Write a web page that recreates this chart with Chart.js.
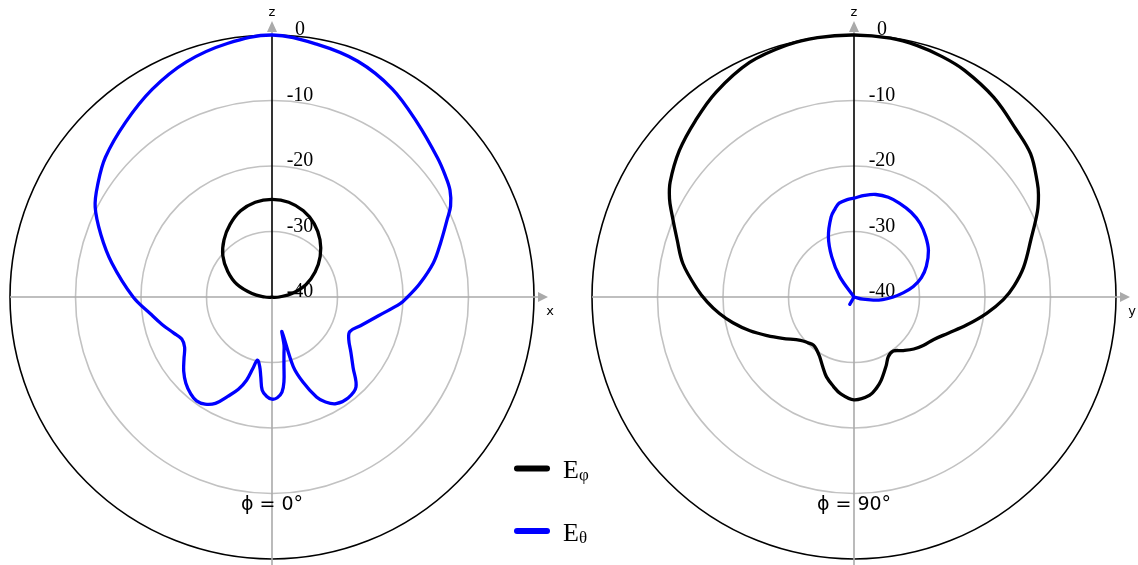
<!DOCTYPE html>
<html>
<head>
<meta charset="utf-8">
<script src="https://cdn.jsdelivr.net/npm/chart.js@4.4.1/dist/chart.umd.min.js"></script>
<style>
  html, body { margin: 0; padding: 0; background: #ffffff; }
  #wrap { position: relative; width: 1138px; height: 565px; overflow: hidden; background: #ffffff; }
  #wrap canvas { position: absolute; left: 0; top: 0; }
</style>
</head>
<body>
<div id="wrap">
  <canvas id="cutXZ" width="1138" height="565"></canvas>
  <canvas id="cutYZ" width="1138" height="565"></canvas>
</div>
<script>
// Normalised far-field pattern cuts, level in dB against polar angle θ (degrees, measured from +z).
const dbMin = -40;
const dbMax = 0;
const dbStep = 10;

// Angular grid: one category per degree, 0 at +z, running clockwise
const polarAngles = Array.from({ length: 360 }, (_, i) => i);

const seriesNames = ['Eφ', 'Eθ'];
const seriesColors = ['#000000', '#0000ff'];

// φ = 0° cut (x–z plane)
const xzPhiAngles = [0, 10, 20, 30, 40, 50, 60, 70, 80, 90, 100, 120, 180, 240, 260, 270, 280, 290, 300, 310, 320, 330, 340, 350];
const xzPhiDb     = [-25.1, -25.3, -26.0, -27.1, -28.6, -30.4, -32.4, -34.5, -36.9, -38.9, -39.7, -40, -40, -40, -39.7, -38.9, -36.9, -34.3, -32.2, -30.2, -28.6, -27.2, -26.0, -25.3];

const xzThetaAngles = [0, 10, 20, 30, 40, 50, 55, 59, 63, 66, 72, 78, 85, 90, 93, 100, 108, 114, 119, 125, 131, 137, 143, 149, 153, 156, 160, 163, 164, 166, 168, 170, 172, 174, 177, 180, 183, 186, 188, 190, 193, 195, 197, 200, 204, 208, 212, 216, 220, 225, 230, 235, 240, 245, 250, 256, 262, 270, 282, 290, 297, 303, 310, 320, 330, 340, 350];
const xzThetaDb     = [0, -0.8, -1.7, -3.3, -5.4, -7.0, -7.7, -8.3, -9.4, -10.7, -12.9, -14.8, -17.4, -19.3, -20.4, -23.5, -25.8, -27.0, -26.6, -25.3, -23.6, -21.2, -20.7, -21.0, -22.0, -23.3, -26.2, -28.9, -34.5, -32.4, -31.2, -29.5, -26.9, -25.4, -24.6, -24.4, -24.8, -25.7, -27.7, -29.2, -30.1, -28.7, -26.7, -25.0, -23.4, -21.6, -20.7, -20.4, -20.7, -21.4, -22.4, -23.6, -24.6, -24.8, -24.0, -22.7, -21.3, -18.8, -15.0, -12.2, -9.7, -8.3, -6.8, -5.2, -3.4, -1.8, -0.7];

// φ = 90° cut (y–z plane)
const yzPhiAngles = [0, 8, 14, 20, 26, 35, 44, 51, 58, 61, 65, 72, 80, 86, 91, 97, 104, 111, 118, 125, 131, 138, 144, 150, 155, 162, 166, 171, 180, 188, 193, 199, 204, 210, 215, 220, 225, 231, 240, 246, 252, 258, 263, 268, 273, 281, 288, 295, 298, 302, 310, 318, 326, 336, 345, 352];
const yzPhiDb     = [0, -0.1, -0.4, -0.9, -1.5, -2.8, -4.4, -5.3, -7.0, -7.8, -9.1, -11.6, -13.7, -15.5, -17.2, -19.6, -22.3, -24.6, -26.2, -27.1, -27.9, -29.0, -29.8, -29.5, -28.4, -26.6, -25.7, -24.8, -24.3, -25.1, -26.0, -27.1, -28.3, -29.5, -30.1, -30.4, -30.1, -29.5, -27.4, -25.5, -23.3, -21.1, -19.3, -17.6, -16.0, -13.4, -11.6, -9.25, -8.1, -6.9, -5.2, -3.8, -2.3, -0.8, -0.2, 0];

const yzThetaAngles = [0, 6, 12, 19, 26, 34, 42, 50, 58, 67, 74, 80, 85, 90, 95, 99, 104, 110, 180, 210, 240, 322, 325, 331, 337, 344, 348, 351, 356];
const yzThetaDb     = [-24.9, -24.4, -24.0, -23.9, -24.1, -24.4, -24.9, -25.7, -26.6, -28.0, -29.3, -30.8, -32.4, -34.0, -35.6, -37.0, -38.6, -40, -40, -38.7, -40, -40, -36.2, -33.0, -30.0, -27.3, -26.2, -25.5, -25.1];

// Spread sparse readings onto the per-degree category grid (gaps are spanned by the line)
function onAngleGrid(angles, values) {
  const out = polarAngles.map(() => null);
  angles.forEach((a, i) => { out[a] = values[i]; });
  return out;
}

function makeDatasets(phiAngles, phiDb, thetaAngles, thetaDb) {
  return [
    { label: seriesNames[0], data: onAngleGrid(phiAngles, phiDb), borderColor: seriesColors[0] },
    { label: seriesNames[1], data: onAngleGrid(thetaAngles, thetaDb), borderColor: seriesColors[1] }
  ].map(ds => Object.assign(ds, {
    borderWidth: 3.3,
    pointRadius: 0,
    pointHoverRadius: 0,
    fill: false,
    spanGaps: true,
    tension: 0.36,
    borderJoinStyle: 'round',
    borderCapStyle: 'round'
  }));
}

// Axes, arrows, dB labels and the cut caption around each polar plot
const polarFrame = {
  id: 'polarFrame',
  beforeDatasetsDraw(chart, args, opts) {
    const s = chart.scales.r;
    const ctx = chart.ctx;
    const cx = s.xCenter, cy = s.yCenter, R = s.drawingArea;
    ctx.save();
    ctx.strokeStyle = '#aaaaaa';
    ctx.fillStyle = '#aaaaaa';
    ctx.lineWidth = 1.6;
    ctx.beginPath();
    ctx.moveTo(cx - R, cy); ctx.lineTo(cx + R + 6, cy);
    ctx.moveTo(cx, cy); ctx.lineTo(cx, chart.height);
    ctx.moveTo(cx, cy - R); ctx.lineTo(cx, cy - R - 6);
    ctx.stroke();
    ctx.beginPath();
    ctx.moveTo(cx + R + 14, cy); ctx.lineTo(cx + R + 4, cy - 5); ctx.lineTo(cx + R + 4, cy + 5); ctx.closePath();
    ctx.moveTo(cx, cy - R - 14); ctx.lineTo(cx - 5, cy - R - 3); ctx.lineTo(cx + 5, cy - R - 3); ctx.closePath();
    ctx.fill();

    ctx.fillStyle = '#000000';
    ctx.font = '13px "DejaVu Sans", sans-serif';
    ctx.textAlign = 'center';
    ctx.textBaseline = 'alphabetic';
    ctx.fillText(opts.vertical, cx, cy - R - 19);
    ctx.fillText(opts.horizontal, cx + R + 16, cy + 18);

    ctx.strokeStyle = '#000000';
    ctx.lineWidth = 1.6;
    ctx.beginPath();
    ctx.moveTo(cx, cy);
    ctx.lineTo(cx, cy - R);
    ctx.stroke();

    ctx.font = '20px "Liberation Serif", serif';
    ctx.textAlign = 'center';
    s.ticks.forEach(t => {
      const d = s.getDistanceFromCenterForValue(t.value);
      ctx.fillText(t.label, cx + 28, cy - d);
    });
    ctx.restore();
  },
  afterDatasetsDraw(chart, args, opts) {
    const s = chart.scales.r;
    const ctx = chart.ctx;
    ctx.save();
    ctx.fillStyle = '#000000';
    ctx.font = '19px "DejaVu Sans", sans-serif';
    ctx.textAlign = 'center';
    ctx.textBaseline = 'alphabetic';
    ctx.fillText(opts.caption, s.xCenter, s.yCenter + 213);

    if (opts.legend) {
      const lg = opts.legend;
      chart.data.datasets.forEach((ds, i) => {
        const y = lg.y + i * lg.gap;
        ctx.strokeStyle = ds.borderColor;
        ctx.lineWidth = 6;
        ctx.lineCap = 'round';
        ctx.beginPath();
        ctx.moveTo(lg.x + 3, y);
        ctx.lineTo(lg.x + 33, y);
        ctx.stroke();
        const main = ds.label.charAt(0);
        const sub = ds.label.slice(1);
        ctx.textAlign = 'left';
        ctx.font = '26px "Liberation Serif", serif';
        ctx.fillText(main, lg.x + 49, y + 9.5);
        const w = ctx.measureText(main).width;
        ctx.font = '17px "Liberation Serif", serif';
        ctx.fillText(sub, lg.x + 49 + w, y + 11.5);
      });
    }
    ctx.restore();
  }
};

function makeCut(canvasId, datasets, pad, frame) {
  return new Chart(document.getElementById(canvasId), {
    type: 'radar',
    data: { labels: polarAngles, datasets },
    plugins: [polarFrame],
    options: {
      responsive: false,
      animation: false,
      devicePixelRatio: 1,
      layout: { padding: pad },
      scales: {
        r: {
          min: dbMin,
          max: dbMax,
          startAngle: 0,
          angleLines: { display: false },
          pointLabels: { display: false },
          ticks: { display: false, stepSize: dbStep },
          grid: {
            circular: true,
            color: c => (c.tick && c.tick.value === dbMax ? '#000000' : '#c2c2c2'),
            lineWidth: c => (c.tick && c.tick.value === dbMin ? 0 : 1.6)
          }
        }
      },
      plugins: {
        legend: { display: false },
        tooltip: { enabled: false },
        polarFrame: frame
      }
    }
  });
}

makeCut('cutXZ',
  makeDatasets(xzPhiAngles, xzPhiDb, xzThetaAngles, xzThetaDb),
  { left: 10, right: 604, top: 35, bottom: 6 },
  { vertical: 'z', horizontal: 'x', caption: 'ϕ = 0°', legend: { x: 514, y: 468.5, gap: 62.5 } });

makeCut('cutYZ',
  makeDatasets(yzPhiAngles, yzPhiDb, yzThetaAngles, yzThetaDb),
  { left: 592, right: 22, top: 35, bottom: 6 },
  { vertical: 'z', horizontal: 'y', caption: 'ϕ = 90°' });
</script>
</body>
</html>
